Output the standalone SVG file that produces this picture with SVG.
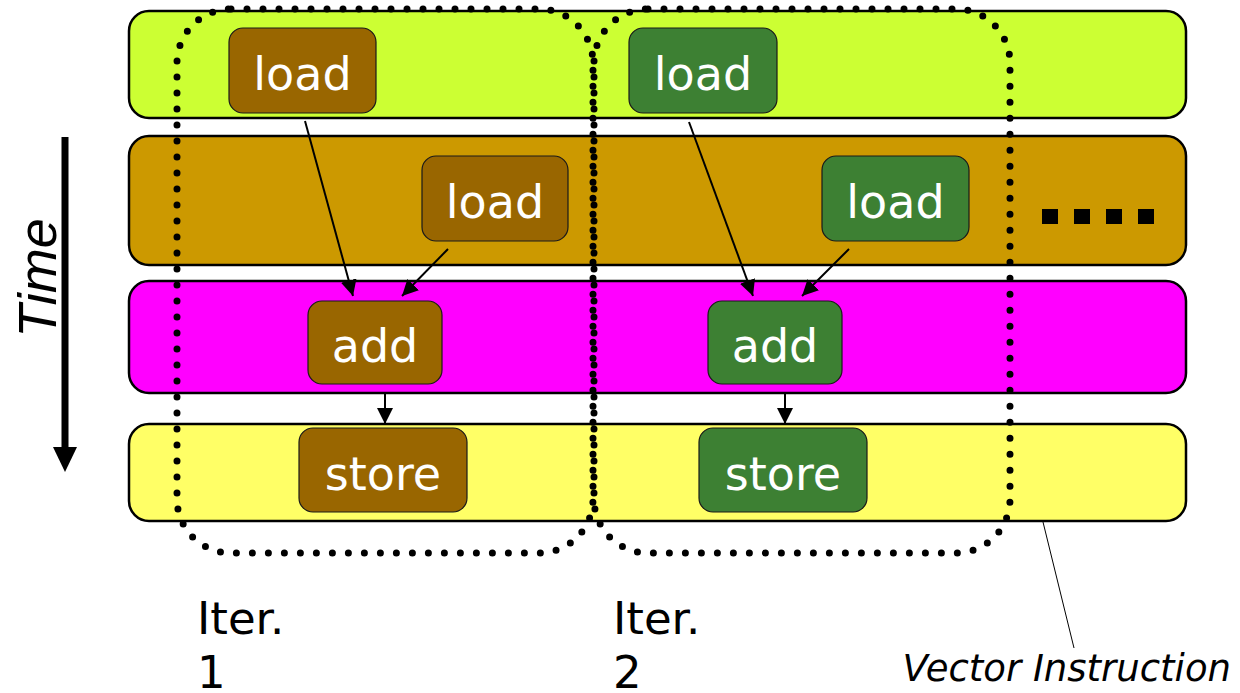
<svg xmlns="http://www.w3.org/2000/svg" width="1240" height="693" viewBox="0 0 1240 693">
<style>
.row{stroke:#000;stroke-width:2.5}
.node rect{stroke:#1a1a1a;stroke-width:1.2}
.brown{fill:#996600}
.green{fill:#3D8033}
.lbl{font-family:"DejaVu Sans","Verdana",sans-serif;font-size:46px;fill:#fff;text-anchor:middle}
.dots{fill:none;stroke:#000;stroke-width:7;stroke-dasharray:0 16;stroke-linecap:round}
.conn line{stroke:#000;stroke-width:2}
.cap{font-family:"DejaVu Sans","Verdana",sans-serif;font-size:45px;fill:#000}
</style>
<defs>
<marker id="ah" markerUnits="userSpaceOnUse" markerWidth="16" markerHeight="16" viewBox="0 0 15 15" refX="15" refY="7.5" orient="auto">
<path d="M0,0 L15,7.5 L0,15 z" fill="#000"/>
</marker>
</defs>
<rect width="1240" height="693" fill="#fff"/>
<g id="rows">
<rect class="row" x="129" y="11" width="1057" height="107" rx="20" fill="#CCFF33"/>
<rect class="row" x="129" y="136" width="1057" height="129" rx="20" fill="#CC9900"/>
<rect class="row" x="129" y="281" width="1057" height="112" rx="20" fill="#FF00FF"/>
<rect class="row" x="129" y="424" width="1057" height="97" rx="20" fill="#FFFF66"/>
</g>
<g id="iter-groups">
<rect class="dots" x="177" y="9" width="416" height="544" rx="54"/>
<rect class="dots" x="594" y="9" width="416" height="544" rx="54"/>
</g>
<g id="ellipsis" fill="#000">
<rect x="1042" y="209" width="16" height="15"/>
<rect x="1074" y="209" width="16" height="15"/>
<rect x="1106" y="209" width="16" height="15"/>
<rect x="1138" y="209" width="16" height="15"/>
</g>
<g id="n-load1a" class="node"><rect class="brown" x="229" y="28" width="147" height="85" rx="14"/><text class="lbl" x="302.5" y="90">load</text></g>
<g id="n-load1b" class="node"><rect class="brown" x="422" y="156" width="146" height="85" rx="14"/><text class="lbl" x="495" y="218">load</text></g>
<g id="n-add1" class="node"><rect class="brown" x="308" y="301" width="134" height="83" rx="14"/><text class="lbl" x="375" y="362">add</text></g>
<g id="n-store1" class="node"><rect class="brown" x="299" y="428" width="168" height="84" rx="14"/><text class="lbl" x="383" y="490">store</text></g>
<g id="n-load2a" class="node"><rect class="green" x="629" y="28" width="148" height="85" rx="14"/><text class="lbl" x="703" y="90">load</text></g>
<g id="n-load2b" class="node"><rect class="green" x="822" y="156" width="147" height="85" rx="14"/><text class="lbl" x="895.5" y="218">load</text></g>
<g id="n-add2" class="node"><rect class="green" x="708" y="301" width="134" height="83" rx="14"/><text class="lbl" x="775" y="362">add</text></g>
<g id="n-store2" class="node"><rect class="green" x="699" y="428" width="168" height="84" rx="14"/><text class="lbl" x="783" y="490">store</text></g>
<g id="connectors" class="conn">
<line x1="305" y1="121" x2="353" y2="296" marker-end="url(#ah)"/>
<line x1="448" y1="249" x2="402" y2="296" marker-end="url(#ah)"/>
<line x1="385" y1="393" x2="385" y2="424" marker-end="url(#ah)"/>
<line x1="689" y1="122" x2="753" y2="296" marker-end="url(#ah)"/>
<line x1="849" y1="249" x2="802" y2="296" marker-end="url(#ah)"/>
<line x1="785" y1="393" x2="785" y2="424" marker-end="url(#ah)"/>
<line x1="1043" y1="522" x2="1074" y2="648" style="stroke-width:1"/>
</g>
<g id="time-axis">
<line x1="65" y1="137" x2="65" y2="452" stroke="#000" stroke-width="7"/>
<polygon points="53,447 77,447 65,472" fill="#000"/>
<text transform="translate(56,278) rotate(-90)" text-anchor="middle" font-family="Liberation Sans, Arial, sans-serif" font-style="italic" font-size="54" fill="#000">Time</text>
</g>
<g id="captions">
<text class="cap" x="197" y="634">Iter.</text>
<text class="cap" x="197" y="688">1</text>
<text class="cap" x="613" y="634">Iter.</text>
<text class="cap" x="613" y="688">2</text>
<text x="1231" y="681" text-anchor="end" font-family="DejaVu Sans, Verdana, sans-serif" font-style="italic" font-size="37" fill="#000">Vector Instruction</text>
</g>
</svg>
